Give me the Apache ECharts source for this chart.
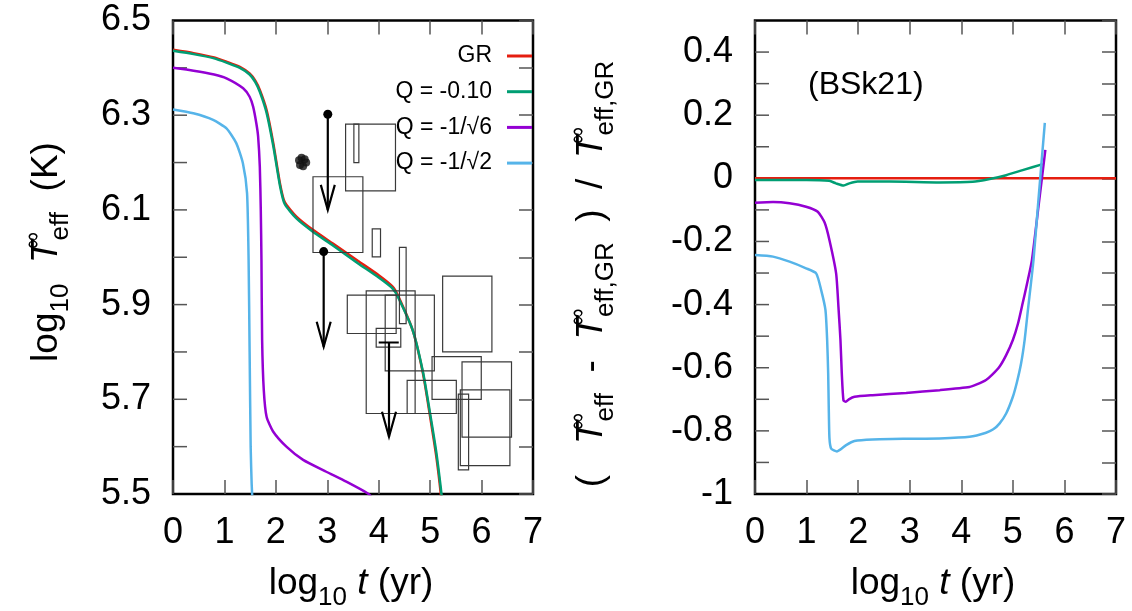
<!DOCTYPE html>
<html><head><meta charset="utf-8">
<script src="https://cdn.jsdelivr.net/npm/echarts@6/dist/echarts.min.js"></script>
<style>html,body{margin:0;padding:0;background:#fff;}#c{width:1132px;height:611px;}</style>
</head><body><div id="c"></div>
<script>
// ---------------- data ----------------
const xTickLabels = ['0','1','2','3','4','5','6','7'];
const leftYTickLabels = ['5.5','5.7','5.9','6.1','6.3','6.5'];
const rightYTickLabels = ['-1','-0.8','-0.6','-0.4','-0.2','0','0.2','0.4'];
const leftYTicks = [5.6, 5.7, 5.8, 5.9, 6.0, 6.1, 6.2, 6.3, 6.4];
const rightYTicks = [-0.9, -0.8, -0.7, -0.6, -0.5, -0.4, -0.3, -0.2, -0.1, 0, 0.1, 0.2, 0.3, 0.4];
const seriesNames = ['GR','Q = -0.10','Q = -1/\u221a6','Q = -1/\u221a2'];

// left panel: log10 Teff vs log10 t
const grT     = [0, 0.4, 0.8, 1.04, 1.3, 1.49, 1.6, 1.69, 1.82, 1.95, 2.08, 2.17, 2.4, 2.72, 3.11, 3.6, 4.0, 4.27, 4.37, 4.66, 4.86, 4.99, 5.12, 5.21, 5.3];
const grLogT  = [6.438, 6.431, 6.422, 6.413, 6.402, 6.388, 6.373, 6.353, 6.311, 6.241, 6.156, 6.117, 6.086, 6.058, 6.029, 5.992, 5.962, 5.938, 5.920, 5.846, 5.755, 5.670, 5.579, 5.498, 5.40];
const q010T    = [0, 0.4, 0.8, 1.04, 1.3, 1.49, 1.6, 1.69, 1.82, 1.95, 2.08, 2.17, 2.4, 2.72, 3.11, 3.6, 4.0, 4.27, 4.37, 4.66, 4.86, 4.99, 5.12, 5.21, 5.3];
const q010LogT = [6.436, 6.429, 6.420, 6.411, 6.400, 6.386, 6.370, 6.349, 6.305, 6.235, 6.151, 6.113, 6.082, 6.054, 6.025, 5.987, 5.957, 5.934, 5.917, 5.846, 5.758, 5.676, 5.588, 5.510, 5.42];
const q6T      = [0, 0.4, 0.8, 1.04, 1.364, 1.49, 1.558, 1.62, 1.655, 1.688, 1.707, 1.72, 1.733, 1.765, 1.82, 1.946, 2.205, 2.53, 2.98, 3.37, 3.79, 3.9];
const q6LogT   = [6.400, 6.394, 6.386, 6.378, 6.357, 6.339, 6.318, 6.283, 6.255, 6.191, 6.100, 5.994, 5.825, 5.720, 5.663, 5.632, 5.600, 5.572, 5.547, 5.526, 5.501, 5.49];
const q2T      = [0, 0.395, 0.78, 1.04, 1.23, 1.36, 1.44, 1.47, 1.49, 1.51, 1.53, 1.56];
const q2LogT   = [6.312, 6.304, 6.290, 6.272, 6.241, 6.198, 6.135, 5.994, 5.80, 5.60, 5.52, 5.45];

// observational error boxes [t_min, t_max, logT_min, logT_max]
const errorBoxes = [
  [3.356, 4.326, 6.140, 6.281],
  [3.517, 3.614, 6.200, 6.281],
  [2.722, 3.692, 6.010, 6.170],
  [3.874, 4.035, 6.001, 6.060],
  [4.403, 4.533, 5.860, 6.021],
  [3.951, 4.429, 5.810, 5.850],
  [3.389, 4.339, 5.839, 5.920],
  [3.757, 4.708, 5.670, 5.929],
  [4.126, 5.082, 5.760, 5.920],
  [5.243, 6.201, 5.800, 5.960],
  [5.037, 5.994, 5.700, 5.790],
  [4.553, 5.509, 5.670, 5.740],
  [5.620, 6.582, 5.620, 5.779],
  [5.587, 6.551, 5.560, 5.720],
  [5.548, 5.748, 5.551, 5.711]
];
// upper limits with a point: [t, logT (point), logT (arrow tip)]
const upperLimitsDot = [[3.01, 6.302, 6.100], [2.93, 6.012, 5.811]];
// upper limit with age range: [t, logT, logT tip, t_min, t_max]
const upperLimitsBar = [[4.20, 5.820, 5.621, 4.00, 4.39]];
// measured points (cluster)
const pointsT    = [2.45, 2.50, 2.56, 2.47, 2.53, 2.59];
const pointsLogT = [6.205, 6.210, 6.207, 6.195, 6.192, 6.200];

// right panel: relative difference
const grRatioT = [0, 7];
const grRatio  = [0, 0];
const q010RatioT = [0, 1.0, 1.44, 1.57, 1.72, 1.83, 1.99, 2.61, 3.58, 4.22, 4.55, 4.87, 5.19, 5.58];
const q010Ratio  = [-0.005, -0.005, -0.008, -0.016, -0.023, -0.016, -0.010, -0.010, -0.013, -0.011, -0.002, 0.010, 0.026, 0.045];
const q6RatioT = [0, 0.35, 0.67, 0.99, 1.217, 1.35, 1.444, 1.573, 1.618, 1.657, 1.683, 1.715, 1.76, 1.82, 1.93, 2.28, 2.93, 3.58, 4.16, 4.3, 4.48, 4.6, 4.74, 4.87, 5.0, 5.1, 5.19, 5.28, 5.37, 5.5, 5.63];
const q6Ratio  = [-0.077, -0.075, -0.079, -0.090, -0.106, -0.140, -0.196, -0.301, -0.407, -0.512, -0.618, -0.703, -0.708, -0.700, -0.692, -0.687, -0.680, -0.671, -0.661, -0.653, -0.639, -0.622, -0.597, -0.560, -0.512, -0.460, -0.396, -0.330, -0.259, -0.085, 0.090];
const q2RatioT = [0, 0.35, 0.67, 0.99, 1.186, 1.283, 1.366, 1.399, 1.419, 1.43, 1.444, 1.477, 1.59, 1.767, 1.928, 2.28, 2.93, 3.58, 4.16, 4.48, 4.62, 4.74, 4.87, 5.0, 5.08, 5.16, 5.23, 5.29, 5.40, 5.5, 5.62];
const q2Ratio  = [-0.243, -0.248, -0.264, -0.285, -0.301, -0.354, -0.417, -0.512, -0.618, -0.724, -0.824, -0.856, -0.865, -0.845, -0.832, -0.827, -0.825, -0.824, -0.819, -0.806, -0.795, -0.777, -0.745, -0.692, -0.645, -0.586, -0.51, -0.420, -0.259, -0.060, 0.176];

// ---------------- chart ----------------
const FONT = '"Liberation Sans", Arial, Helvetica, sans-serif';
const colors = ['#e51e10', '#009e73', '#9400d3', '#56b4e9'];
const TICK_COLOR = '#555';
const zip = (a, b) => a.map((v, i) => [v, b[i]]);
const fmt = v => { const k = Math.round(v * 10); if (k === 0) return '0'; if (k % 10 === 0) return String(k / 10); return (k / 10).toFixed(1); };

const tickStyle = (show) => ({ show: show, inside: true, length: 14, lineStyle: { color: TICK_COLOR, width: 1.5 } });
function xAx(grid, pos, labels) {
  return { type: 'value', gridIndex: grid, position: pos, min: 0, max: 7, interval: 1,
    axisLine: { show: false, onZero: false }, splitLine: { show: false }, axisTick: tickStyle(true),
    axisLabel: { show: labels, margin: 21, color: '#000', fontSize: 36, fontFamily: FONT,
      formatter: v => { const s = fmt(v); return xTickLabels.includes(s) ? s : ''; } } };
}
function yAx(grid, pos, labels, ticks, min, max, list) {
  return { type: 'value', gridIndex: grid, position: pos, min: min, max: max, interval: 0.1,
    axisLine: { show: false, onZero: false }, splitLine: { show: false }, axisTick: tickStyle(ticks),
    axisLabel: { show: labels, margin: 22, color: '#000', fontSize: 36, fontFamily: FONT,
      formatter: v => { const s = fmt(v); return list.includes(s) ? s : ''; } } };
}

function lineSeries(name, idx, xi, yi, data) {
  return { type: 'line', name: name, xAxisIndex: xi, yAxisIndex: yi, data: data,
    showSymbol: false, symbol: 'none', smooth: 0.2, clip: true, z: 2,
    lineStyle: { color: colors[idx], width: 2.5 }, itemStyle: { color: colors[idx] } };
}
// inward tick marks along the left edge of a panel, placed through the axis scale
function leftTicks(xi, yi, ticks) {
  return { type: 'custom', name: 'ticks', xAxisIndex: xi, yAxisIndex: yi, silent: true, clip: false, z: 1,
    data: ticks.map(v => [0, v]), encode: { x: 0, y: 1 },
    renderItem: (params, api) => {
      const p = api.coord([api.value(0), api.value(1)]);
      return { type: 'line', shape: { x1: p[0], y1: p[1], x2: p[0] + 14, y2: p[1] },
        style: { stroke: TICK_COLOR, lineWidth: 1.5 } };
    } };
}

const rich = {
  m: { fontSize: 37, fontFamily: FONT, color: '#000' },
  i: { fontSize: 37, fontFamily: FONT, fontStyle: 'italic', color: '#000' },
  s: { fontSize: 26, fontFamily: FONT, color: '#000', padding: [28, 0, 0, 0] },
  sup: { fontSize: 24, fontFamily: FONT, color: '#000', padding: [0, 0, 28, 0], width: 0 }
};

const option = {
  animation: false,
  backgroundColor: '#fff',
  textStyle: { fontFamily: FONT },
  grid: [
    { left: 173, top: 20.5, width: 360, height: 473.5, show: true, borderColor: '#000', borderWidth: 2.5, backgroundColor: 'transparent', containLabel: false, outerBoundsMode: 'none' },
    { left: 755, top: 20.5, width: 361, height: 473.5, show: true, borderColor: '#000', borderWidth: 2.5, backgroundColor: 'transparent', containLabel: false, outerBoundsMode: 'none' }
  ],
  xAxis: [ xAx(0, 'bottom', true), xAx(0, 'top', false), xAx(1, 'bottom', true), xAx(1, 'top', false) ],
  yAxis: [
    yAx(0, 'left', true, false, 5.5, 6.5, leftYTickLabels),
    yAx(0, 'right', false, true, 5.5, 6.5, leftYTickLabels),
    yAx(1, 'left', true, false, -1, 0.5, rightYTickLabels),
    yAx(1, 'right', false, true, -1, 0.5, rightYTickLabels)
  ],
  legend: {
    data: seriesNames, orient: 'vertical', align: 'right', right: 600, top: 44.5, padding: 0,
    icon: 'rect', itemWidth: 25, itemHeight: 3, itemGap: 12.7, selectedMode: false,
    textStyle: { fontSize: 23, fontFamily: FONT, color: '#000', padding: [0, 10, 0, 0], lineHeight: 22 }
  },
  graphic: [
    { type: 'text', x: 351, y: 584, style: { text: '{m|log}{s|10}{m| }{i|t}{m| (yr)}', rich: rich, align: 'center', verticalAlign: 'middle' } },
    { type: 'text', x: 933, y: 584, style: { text: '{m|log}{s|10}{m| }{i|t}{m| (yr)}', rich: rich, align: 'center', verticalAlign: 'middle' } },
    { type: 'text', x: 47, y: 252, rotation: Math.PI / 2, style: { text: '{m|log}{s|10}{m|  }{i|T}{sup|\u221e}{s|eff}{m|  (K)}', rich: rich, align: 'center', verticalAlign: 'middle' } },
    { type: 'text', x: 592, y: 274, rotation: Math.PI / 2, style: { text: '{m|(   }{i|T}{sup|\u221e}{s|eff}{m|  -  }{i|T}{sup|\u221e}{s|eff,GR}{m|  )  /  }{i|T}{sup|\u221e}{s|eff,GR}', rich: rich, align: 'center', verticalAlign: 'middle' } },
    { type: 'text', x: 808, y: 85, style: { text: '(BSk21)', fontSize: 32, fontFamily: FONT, fill: '#000', align: 'left', verticalAlign: 'middle' } }
  ],
  series: [
    leftTicks(0, 0, leftYTicks),
    leftTicks(2, 2, rightYTicks),
    lineSeries(seriesNames[0], 0, 0, 0, zip(grT, grLogT)),
    lineSeries(seriesNames[1], 1, 0, 0, zip(q010T, q010LogT)),
    lineSeries(seriesNames[2], 2, 0, 0, zip(q6T, q6LogT)),
    lineSeries(seriesNames[3], 3, 0, 0, zip(q2T, q2LogT)),
    { type: 'custom', name: 'boxes', xAxisIndex: 0, yAxisIndex: 0, data: errorBoxes, clip: true, z: 3,
      encode: { x: [0, 1], y: [2, 3] },
      renderItem: (params, api) => {
        const a = api.coord([api.value(0), api.value(3)]);
        const b = api.coord([api.value(1), api.value(2)]);
        return { type: 'rect', shape: { x: a[0], y: a[1], width: b[0] - a[0], height: b[1] - a[1] },
          style: { fill: 'none', stroke: '#3a3a3a', lineWidth: 1.2 } };
      } },
    { type: 'custom', name: 'ulDot', xAxisIndex: 0, yAxisIndex: 0, data: upperLimitsDot, clip: true, z: 4,
      encode: { x: 0, y: [1, 2] },
      renderItem: (params, api) => {
        const p = api.coord([api.value(0), api.value(1)]);
        const q = api.coord([api.value(0), api.value(2)]);
        return { type: 'group', children: [
          { type: 'line', shape: { x1: p[0], y1: p[1], x2: q[0], y2: q[1] }, style: { stroke: '#000', lineWidth: 2.2 } },
          { type: 'polyline', shape: { points: [[q[0] - 7, q[1] - 25], [q[0], q[1]], [q[0] + 7, q[1] - 25]] }, style: { stroke: '#000', lineWidth: 2.2, fill: null } },
          { type: 'circle', shape: { cx: p[0], cy: p[1], r: 4.5 }, style: { fill: '#000' } }
        ] };
      } },
    { type: 'custom', name: 'ulBar', xAxisIndex: 0, yAxisIndex: 0, data: upperLimitsBar, clip: true, z: 4,
      encode: { x: [0, 3, 4], y: [1, 2] },
      renderItem: (params, api) => {
        const p = api.coord([api.value(0), api.value(1)]);
        const q = api.coord([api.value(0), api.value(2)]);
        const l = api.coord([api.value(3), api.value(1)]);
        const r = api.coord([api.value(4), api.value(1)]);
        return { type: 'group', children: [
          { type: 'line', shape: { x1: l[0], y1: l[1], x2: r[0], y2: r[1] }, style: { stroke: '#000', lineWidth: 2.2 } },
          { type: 'line', shape: { x1: p[0], y1: p[1], x2: q[0], y2: q[1] }, style: { stroke: '#000', lineWidth: 2.2 } },
          { type: 'polyline', shape: { points: [[q[0] - 7, q[1] - 25], [q[0], q[1]], [q[0] + 7, q[1] - 25]] }, style: { stroke: '#000', lineWidth: 2.2, fill: null } }
        ] };
      } },
    { type: 'scatter', name: 'points', xAxisIndex: 0, yAxisIndex: 0, data: zip(pointsT, pointsLogT),
      symbol: 'circle', symbolSize: 8, itemStyle: { color: '#111' }, z: 4 },
    lineSeries(seriesNames[0], 0, 2, 2, zip(grRatioT, grRatio)),
    lineSeries(seriesNames[1], 1, 2, 2, zip(q010RatioT, q010Ratio)),
    lineSeries(seriesNames[2], 2, 2, 2, zip(q6RatioT, q6Ratio)),
    lineSeries(seriesNames[3], 3, 2, 2, zip(q2RatioT, q2Ratio))
  ]
};
const chart = echarts.init(document.getElementById('c'), null, { renderer: 'canvas' });
chart.setOption(option);
</script></body></html>
